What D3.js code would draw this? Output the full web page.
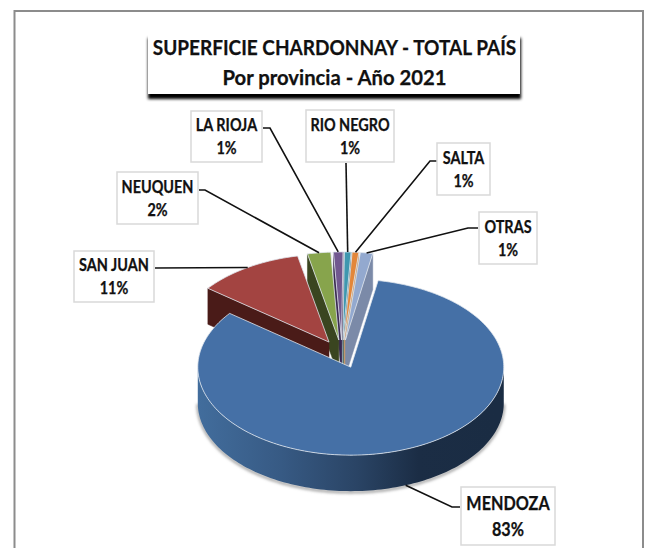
<!DOCTYPE html>
<html>
<head>
<meta charset="utf-8">
<script src="https://cdn.jsdelivr.net/npm/d3@7"></script>
<style>
  html, body { margin: 0; padding: 0; background: #fff; }
  svg { display: block; }
  text { font-family: Lato, "Open Sans", sans-serif; font-weight: 700; fill: #111; stroke: #111; stroke-width: 0.25; text-anchor: middle; }
</style>
</head>
<body>
<svg width="649" height="548"></svg>
<script>
var provinces = ['MENDOZA', 'SAN JUAN', 'NEUQUEN', 'LA RIOJA', 'RIO NEGRO', 'SALTA', 'OTRAS'];
var shares = [82.6, 11.25, 2.45, 1.0, 0.7, 0.7, 1.3];
var colors = ['#4570a6', '#a34441', '#87a44c', '#71588f', '#3f97af', '#e3873a', '#93a9cf'];
var wallColors = ['#2a4568', '#4a1b18', '#3a4520', '#3b2a52', '#24606f', '#c89a6a', '#7b8aa8'];
var titleLines = ['SUPERFICIE CHARDONNAY - TOTAL PAÍS', 'Por provincia - Año 2021'];
var titleSqueeze = [0.905, 0.965];

// label boxes: x0, y0, x1, y1 and the elbow of each leader
var boxes = [
  [461, 487, 555, 545], [74, 251, 154, 302], [117, 172, 198, 224], [191, 111, 262, 162],
  [306, 110, 394, 162], [437, 143, 490, 195], [479, 212, 537, 264]
];
var leaderStarts = [[460, 507], [155, 268], [199, 190], [263, 128], [346, 163], [440, 161], [478, 228]];
var leaderElbows = [[452, 507], [155, 268], [205, 190], [270, 128], [346, 163], [430, 161], [468, 228]];
var labelSize = [18.5, 16.5, 16.5, 16.5, 16.5, 16.5, 16.5];

var svg = d3.select('svg');
var cx = 342, cy = 354, rx = 153, ry = 88, depth = 36, explode = 0.16;
var rot = 10.3 * Math.PI / 180;

var pie = d3.pie().sort(null).startAngle(rot).endAngle(rot + 2 * Math.PI);
var slices = pie(shares);
slices.forEach(function (s, i) { s.i = i; s.mid = (s.startAngle + s.endAngle) / 2; });

var x = d3.scaleLinear().domain([-1, 1]).range([cx - rx, cx + rx]);
var y = d3.scaleLinear().domain([-1, 1]).range([cy - ry, cy + ry]);

// point on a slice: angle clockwise from north, r in radius units, dz px of drop
function pt(s, a, r, dz) {
  var ox = explode * Math.sin(s.mid), oy = -explode * Math.cos(s.mid);
  return [x(ox + r * Math.sin(a)), y(oy - r * Math.cos(a)) + (dz || 0)];
}
function arcPts(s, a0, a1, dz) {
  var n = Math.max(2, Math.ceil(Math.abs(a1 - a0) * 40));
  return d3.range(n + 1).map(function (k) { return pt(s, a0 + (a1 - a0) * k / n, 1, dz); });
}
// Lato runs wider than the narrow face of the picture, so squeeze it
function squeeze(node, k) {
  node.setAttribute('textLength', node.getComputedTextLength() * k);
  node.setAttribute('lengthAdjust', 'spacingAndGlyphs');
}
var line = d3.line();

var defs = svg.append('defs');
var grad = defs.append('linearGradient').attr('id', 'wall').attr('gradientUnits', 'userSpaceOnUse')
  .attr('x1', x(-1)).attr('x2', x(1)).attr('y1', 0).attr('y2', 0);
[[0, '#436f9f'], [0.3, '#375a84'], [0.55, '#2a4465'], [0.75, '#1b2d45'], [1, '#1a2c43']].forEach(function (d) {
  grad.append('stop').attr('offset', d[0]).attr('stop-color', d[1]);
});
defs.append('filter').attr('id', 'blur').attr('x', '-10%').attr('y', '-10%').attr('width', '120%').attr('height', '120%')
  .append('feGaussianBlur').attr('stdDeviation', 1.6);
defs.append('filter').attr('id', 'blur2').attr('x', '-5%').attr('y', '-30%').attr('width', '110%').attr('height', '160%')
  .append('feGaussianBlur').attr('stdDeviation', 1.5);

// frame
svg.append('path').attr('d', 'M14.5,548V11H643V548').attr('fill', 'none').attr('stroke', '#8c8c8c').attr('stroke-width', 2);

// title
svg.append('rect').attr('x', 148).attr('y', 38).attr('width', 373).attr('height', 61).attr('fill', '#000').attr('filter', 'url(#blur2)');
svg.append('rect').attr('x', 148).attr('y', 33).attr('width', 372).attr('height', 61).attr('fill', '#fff');
svg.selectAll('text.title').data(titleLines).enter().append('text').attr('class', 'title')
  .attr('x', 334.5).attr('y', function (d, i) { return 55 + i * 30; })
  .attr('font-size', 21).text(function (d) { return d; })
  .each(function (d, i) { squeeze(this, titleSqueeze[i]); });

// back to front
var drawOrder = [4, 3, 2, 1, 5, 6, 0];
var mendoza = slices[0];

// soft shadow under the front wall
var rim = arcPts(mendoza, Math.PI * 0.5, Math.PI * 1.5, depth + 1);
svg.append('path').attr('d', line(rim)).attr('fill', 'none').attr('stroke', '#999').attr('stroke-width', 2.5).attr('filter', 'url(#blur)');

drawOrder.forEach(function (i) {
  var s = slices[i];
  var g = svg.append('g');
  var apex = pt(s, 0, 0);
  var walls = [];
  // a radial wall only shows when it faces the viewer
  if (Math.sin(s.startAngle) < 0) walls.push(s.startAngle);
  if (Math.sin(s.endAngle) > 0) walls.push(s.endAngle);
  if (i > 0) {
    walls.forEach(function (a) {
      var p = pt(s, a, 1), q = pt(s, a, 1, depth), r = pt(s, 0, 0, depth);
      g.append('path').attr('d', line([apex, p, q, r]) + 'Z').attr('fill', wallColors[i])
        .attr('stroke', wallColors[i]).attr('stroke-width', 0.5);
    });
  } else {
    var front = arcPts(s, Math.PI * 0.5, Math.PI * 1.5, 0);
    var back = arcPts(s, Math.PI * 1.5, Math.PI * 0.5, depth);
    g.append('path').attr('d', line(front.concat(back)) + 'Z').attr('fill', 'url(#wall)');
  }
  var top = [apex].concat(arcPts(s, s.startAngle, s.endAngle, 0));
  g.append('path').attr('d', line(top) + 'Z').attr('fill', colors[i])
    .attr('stroke', '#dfe6ee').attr('stroke-width', 0.8).attr('stroke-linejoin', 'round');
});

// leaders
slices.forEach(function (s, i) {
  var end = pt(s, s.mid, 1, i === 0 ? depth : 0);
  svg.append('path').attr('d', line([leaderStarts[i], leaderElbows[i], end])).attr('fill', 'none')
    .attr('stroke', '#111').attr('stroke-width', 1.6);
});

// labels
boxes.forEach(function (b, i) {
  var g = svg.append('g');
  g.append('rect').attr('x', b[0]).attr('y', b[1]).attr('width', b[2] - b[0]).attr('height', b[3] - b[1])
    .attr('fill', '#fff').attr('stroke', '#d9d9d9').attr('stroke-width', 1.5);
  var mx = (b[0] + b[2]) / 2, h = b[3] - b[1];
  var name = g.append('text').attr('x', mx).attr('y', b[1] + h * 0.40).attr('font-size', labelSize[i]).text(provinces[i]);
  var pct = g.append('text').attr('x', mx).attr('y', b[1] + h * 0.85).attr('font-size', labelSize[i]).text(d3.format('.0f')(shares[i]) + '%');
  squeeze(name.node(), 0.875);
  squeeze(pct.node(), 0.875);
});
</script>
</body>
</html>
